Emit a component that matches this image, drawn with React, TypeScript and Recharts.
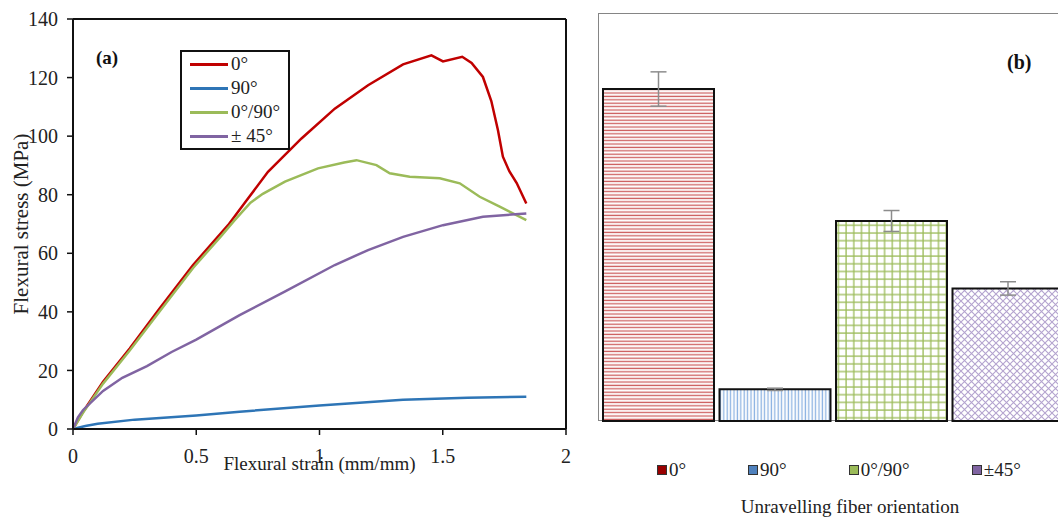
import React from 'react';
import { LineChart, Line, XAxis, YAxis, ReferenceLine, Legend, BarChart, Bar, ErrorBar, Cell } from 'recharts';

const FONT = '"Liberation Serif", "Times New Roman", serif';

// (a) flexural stress vs strain
const strain0 = [0, 0.041, 0.122, 0.23, 0.352, 0.487, 0.629, 0.7, 0.791, 0.927, 1.062, 1.197, 1.339, 1.454, 1.501, 1.579, 1.617, 1.663, 1.697, 1.724, 1.744, 1.77, 1.8, 1.839];
const stress0 = [0, 5.9, 16.1, 27.5, 41.2, 56, 69.6, 77.6, 87.8, 99.2, 109.4, 117.4, 124.5, 127.6, 125.5, 127.1, 125, 120.2, 112, 102, 93, 88, 84, 77];

const strain90 = [0, 0.05, 0.1, 0.25, 0.5, 0.676, 1.0, 1.339, 1.6, 1.839];
const stress90 = [0, 1, 1.8, 3.2, 4.6, 5.9, 8.0, 10.0, 10.7, 11.0];

const strain0090 = [0, 0.041, 0.122, 0.23, 0.352, 0.487, 0.6, 0.656, 0.72, 0.77, 0.86, 0.994, 1.1, 1.15, 1.231, 1.285, 1.366, 1.488, 1.569, 1.65, 1.731, 1.839];
const stress0090 = [0, 5.6, 15.5, 26.8, 40.2, 55, 65.8, 71.3, 77.3, 80.3, 84.5, 89, 91, 91.8, 90.1, 87.3, 86.1, 85.6, 83.9, 79.3, 75.9, 71.3];

const strain45 = [0, 0.02, 0.041, 0.122, 0.2, 0.3, 0.4, 0.5, 0.676, 0.859, 1.062, 1.197, 1.339, 1.501, 1.663, 1.839];
const stress45 = [0, 4, 6.5, 13, 17.5, 21.5, 26.3, 30.5, 38.9, 46.9, 56, 61.1, 65.6, 69.6, 72.5, 73.6];

const curveNames = ['0°', '90°', '0°/90°', '± 45°'];
const curveColors = ['#c00000', '#2e75b6', '#9bbb59', '#8064a2'];
const strainTicks = [0, 0.5, 1, 1.5, 2];
const stressTicks = [0, 20, 40, 60, 80, 100, 120, 140];

// (b) flexural strength by unravelling fiber orientation
const orientations = ['0°', '90°', '0°/90°', '±45°'];
const strength = [114.2, 10.9, 68.8, 45.6];
const strengthErr = [5.9, 0.4, 3.6, 2.3];
const swatchColors = ['#990000', '#4f81bd', '#9bbb59', '#8064a2'];

const toPoints = (xs: number[], ys: number[]) => xs.map((x, i) => ({ x, y: ys[i] }));
const curves = [
  toPoints(strain0, stress0),
  toPoints(strain90, stress90),
  toPoints(strain0090, stress0090),
  toPoints(strain45, stress45),
];

const barData = orientations.map((name, i) => ({ name, value: strength[i], err: strengthErr[i] }));

const CurveLegend = () => (
  <div style={{ boxSizing: 'border-box', width: 110, height: 100, border: '2px solid #111', background: '#fff', fontFamily: FONT, fontSize: 19, color: '#222' }}>
    {curveNames.map((n, i) => (
      <div key={n} style={{ display: 'flex', alignItems: 'center', height: 24 }}>
        <span style={{ display: 'inline-block', width: 38, height: 3, background: curveColors[i], marginLeft: 8, marginRight: 3 }} />
        <span>{n}</span>
      </div>
    ))}
  </div>
);

const BarLegend = () => (
  <div style={{ display: 'flex', gap: 62, fontFamily: FONT, fontSize: 19, color: '#222', lineHeight: '22px' }}>
    {orientations.map((n, i) => (
      <div key={n} style={{ display: 'flex', alignItems: 'center' }}>
        <span style={{ display: 'inline-block', boxSizing: 'border-box', width: 10, height: 10, background: swatchColors[i], border: '1px solid #333', marginRight: 2 }} />
        <span>{n}</span>
      </div>
    ))}
  </div>
);

const tickStyle = { fontSize: 20, fill: '#222', fontFamily: FONT };

export default function App() {
  return (
    <div style={{ position: 'fixed', left: 0, top: 0, width: 1058, height: 521, overflow: 'hidden', background: '#fff' }}>
      <svg width={0} height={0} style={{ position: 'absolute' }}>
        <defs>
          <pattern id="hatch0" patternUnits="userSpaceOnUse" width={6} height={3.4}>
            <rect width={6} height={3.4} fill="#fff" />
            <line x1={0} y1={1.2} x2={6} y2={1.2} stroke="#cd5f5f" strokeWidth={1.3} />
          </pattern>
          <pattern id="hatch1" patternUnits="userSpaceOnUse" width={3.4} height={6}>
            <rect width={3.4} height={6} fill="#fff" />
            <line x1={1.2} y1={0} x2={1.2} y2={6} stroke="#8db3e2" strokeWidth={1.3} />
          </pattern>
          <pattern id="hatch2" patternUnits="userSpaceOnUse" width={7.7} height={7.7}>
            <rect width={7.7} height={7.7} fill="#fff" />
            <line x1={2} y1={0} x2={2} y2={7.7} stroke="#9bbb59" strokeWidth={1.3} />
            <line x1={0} y1={2} x2={7.7} y2={2} stroke="#9bbb59" strokeWidth={1.3} />
          </pattern>
          <pattern id="hatch3" patternUnits="userSpaceOnUse" width={7} height={7}>
            <rect width={7} height={7} fill="#fff" />
            <path d="M0,0 L7,7 M7,0 L0,7" stroke="#b4a3cf" strokeWidth={1.1} />
          </pattern>
        </defs>
      </svg>

      <div style={{ position: 'absolute', left: 0, top: 0 }}>
        <LineChart width={590} height={521} margin={{ top: 19, right: 24, left: 13, bottom: 68 }}>
          <XAxis
            type="number"
            dataKey="x"
            domain={[0, 2]}
            ticks={strainTicks}
            height={24}
            tickSize={6}
            tickMargin={14}
            tick={tickStyle}
            stroke="#111"
            strokeWidth={2}
            tickLine={{ stroke: '#111', strokeWidth: 1.5 }}
            label={{ value: 'Flexural strain (mm/mm)', position: 'bottom', offset: 3.5, style: { fontSize: 19, fill: '#222', fontFamily: FONT } }}
          />
          <YAxis
            type="number"
            dataKey="y"
            domain={[0, 140]}
            ticks={stressTicks}
            width={60}
            tickSize={6}
            tickMargin={9}
            tick={tickStyle}
            stroke="#111"
            strokeWidth={2}
            tickLine={{ stroke: '#111', strokeWidth: 1.5 }}
            label={{ value: 'Flexural stress (MPa)', angle: -90, position: 'insideLeft', offset: 8, style: { textAnchor: 'middle', fontSize: 21, fill: '#222', fontFamily: FONT } }}
          />
          <ReferenceLine y={140} stroke="#111" strokeWidth={2} />
          <ReferenceLine x={2} stroke="#111" strokeWidth={2} />
          {curves.map((pts, i) => (
            <Line
              key={curveNames[i]}
              data={pts}
              dataKey="y"
              name={curveNames[i]}
              type="linear"
              stroke={curveColors[i]}
              strokeWidth={2.5}
              dot={false}
              isAnimationActive={false}
            />
          ))}
          <Legend layout="horizontal" verticalAlign="middle" align="center" content={CurveLegend} wrapperStyle={{ left: 180, top: 50, width: 110, height: 100 }} />
        </LineChart>
      </div>

      <div style={{ position: 'absolute', left: 96, top: 47, fontFamily: FONT, fontWeight: 'bold', fontSize: 19, color: '#111' }}>(a)</div>

      <div style={{ position: 'absolute', left: 598, top: 13, width: 480, height: 408, border: '1.5px solid #858585', boxSizing: 'border-box' }} />

      <div style={{ position: 'absolute', left: 590, top: 0 }}>
        <BarChart width={490} height={521} data={barData} margin={{ top: 14, right: 14, left: 10, bottom: 100 }} barCategoryGap={3}>
          <XAxis dataKey="name" hide />
          <YAxis type="number" domain={[0, 140]} hide />
          <Bar dataKey="value" stroke="#111" strokeWidth={2} isAnimationActive={false}>
            {barData.map((d, i) => (
              <Cell key={d.name} fill={`url(#hatch${i})`} />
            ))}
            <ErrorBar dataKey="err" width={8} stroke="#8c8c8c" strokeWidth={1.5} direction="y" />
          </Bar>
          <Legend layout="horizontal" verticalAlign="middle" align="center" content={BarLegend} wrapperStyle={{ left: 67, top: 459, width: 420, height: 22 }} />
        </BarChart>
      </div>

      <div style={{ position: 'absolute', left: 1007, top: 51, fontFamily: FONT, fontWeight: 'bold', fontSize: 20, color: '#111' }}>(b)</div>
      <div style={{ position: 'absolute', left: 650, width: 400, top: 496, textAlign: 'center', fontFamily: FONT, fontSize: 19, color: '#222' }}>Unravelling fiber orientation</div>
    </div>
  );
}
